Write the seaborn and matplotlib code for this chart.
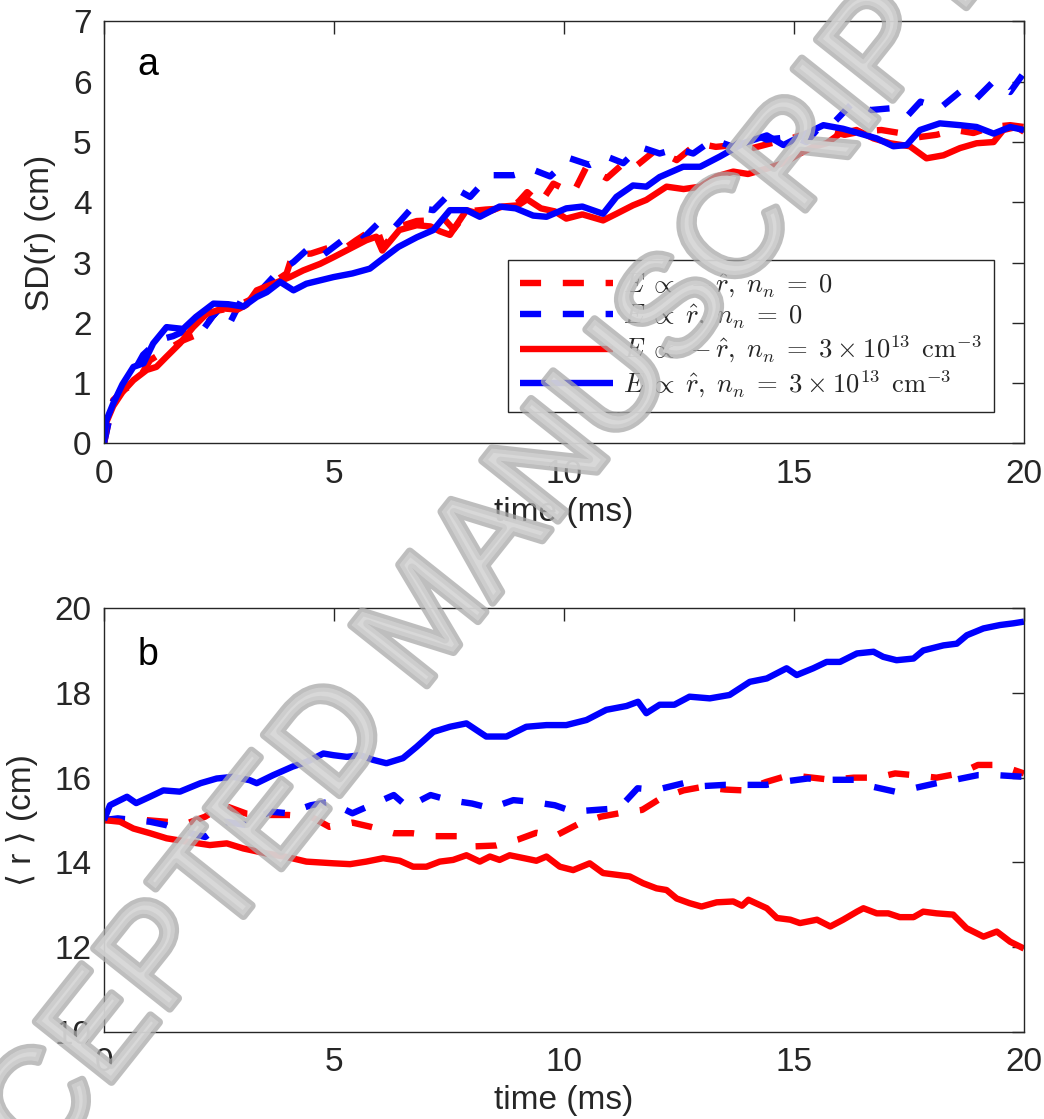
import numpy as np
import pandas as pd
import matplotlib
matplotlib.use("Agg")
import matplotlib.pyplot as plt
import matplotlib.patheffects as pe
from matplotlib import font_manager as fm
import seaborn as sns

# ---------------- data ----------------
# panel a : SD(r) (cm) versus time (ms)
a_t_red_dash = [0, 0.2, 0.45, 0.7, 1.0, 1.36, 1.72, 2.07, 2.45, 2.8, 3.17, 3.54, 3.97, 4.1, 4.5,
                4.94, 5.2, 5.48, 5.92, 6.07, 6.43, 6.8, 7.1, 7.4, 7.6, 7.9, 8.3, 8.7, 9.0, 9.2,
                9.48, 9.77, 10.2, 10.49, 10.93, 11.3, 11.5, 12.0, 12.45, 12.9, 13.3, 13.7, 14.1,
                14.5, 14.9, 15.3, 15.7, 16.1, 16.5, 16.9, 17.3, 17.7, 18.1, 18.5, 18.9, 19.3,
                19.7, 20.0]
a_v_red_dash = [0, 0.72, 0.9, 1.0, 1.38, 1.55, 1.71, 1.82, 2.2, 2.25, 2.38, 2.6, 2.82, 3.13, 3.15,
                3.26, 3.22, 3.37, 3.59, 3.26, 3.6, 3.69, 3.7, 3.72, 3.55, 3.85, 3.88, 3.9, 4.0, 4.17,
                3.98, 4.31, 4.15, 4.59, 4.4, 4.65, 4.56, 4.87, 4.7, 4.98, 4.92, 4.95, 4.9,
                4.98, 5.05, 5.15, 5.2, 5.12, 5.18, 5.2, 5.15, 5.08, 5.12, 5.2, 5.15, 5.25,
                5.28, 5.25]

a_t_blue_dash = [0, 0.2, 0.45, 0.85, 1.2, 1.5, 1.8, 2.1, 2.41, 2.7, 3.0, 3.3, 3.75, 4.12, 4.48,
                 4.77, 5.2, 5.6, 6.0, 6.3, 6.72, 7.16, 7.63, 7.96, 8.39, 8.9, 9.33, 9.7, 10.13,
                 10.56, 10.93, 11.29, 11.65, 12.08, 12.45, 12.81, 13.24, 13.68, 14.1, 14.4, 15.0,
                 15.27, 15.5, 15.9, 16.3, 16.65, 17.1, 17.45, 17.75, 18.17, 18.6, 18.9, 19.33,
                 19.7, 20.0]
a_v_blue_dash = [0, 0.7, 0.92, 1.47, 1.72, 1.78, 1.88, 1.83, 2.16, 1.94, 2.4, 2.45, 2.82, 3.01, 3.26,
                 3.13, 3.38, 3.38, 3.68, 3.57, 3.93, 3.87, 4.23, 4.09, 4.45, 4.45, 4.54, 4.43, 4.73,
                 4.62, 4.76, 4.65, 4.92, 4.81, 4.89, 4.81, 5.04, 4.92, 5.15, 5.04, 5.09,
                 5.0, 5.2, 5.35, 5.67, 5.53, 5.56, 5.42, 5.67, 5.56, 5.83, 5.67, 6.0,
                 5.83, 6.15]

a_t_red_solid = [0, 0.05, 0.2, 0.4, 0.64, 0.93, 1.14, 1.36, 1.65, 1.94, 2.23, 2.59, 2.9, 3.1,
                 3.32, 3.68, 4.04, 4.33, 4.7, 4.99, 5.42, 5.7, 5.92, 6.05, 6.42, 6.8, 7.1, 7.3,
                 7.52, 7.88, 8.2, 8.66, 9.0, 9.2, 9.5, 9.8, 10.05, 10.4, 10.85, 11.14, 11.5,
                 11.79, 12.23, 12.6, 12.96, 13.32, 13.68, 14.0, 14.41, 14.77, 15.13, 15.42,
                 15.71, 16.0, 16.36, 16.73, 17.09, 17.52, 17.88, 18.25, 18.61, 18.97, 19.34,
                 19.55, 19.84, 20.0]
a_v_red_solid = [0, 0.35, 0.62, 0.85, 1.05, 1.22, 1.27, 1.44, 1.66, 1.93, 2.15, 2.24, 2.22, 2.3,
                 2.54, 2.65, 2.76, 2.87, 2.98, 3.09, 3.26, 3.37, 3.43, 3.2, 3.54, 3.62, 3.6, 3.52,
                 3.46, 3.87, 3.8, 3.93, 3.95, 4.05, 3.9, 3.85, 3.73, 3.8, 3.7, 3.81, 3.95,
                 4.04, 4.26, 4.22, 4.26, 4.43, 4.51, 4.47, 4.56, 4.65, 4.81, 4.92,
                 4.98, 5.14, 5.2, 5.06, 4.98, 4.93, 4.73, 4.78, 4.9, 4.98, 5.0,
                 5.2, 5.25, 5.17]

a_t_blue_solid = [0, 0.05, 0.2, 0.4, 0.64, 0.86, 1.07, 1.36, 1.72, 2.0, 2.38, 2.7, 3.03, 3.32,
                  3.54, 3.83, 4.12, 4.4, 4.99, 5.4, 5.78, 6.0, 6.4, 6.8, 7.16, 7.52, 7.88, 8.17,
                  8.6, 8.95, 9.33, 9.62, 10.05, 10.4, 10.85, 11.14, 11.5, 11.79, 12.08, 12.59,
                  12.96, 13.39, 13.9, 14.41, 14.77, 15.13, 15.64, 16.07, 16.44, 16.8, 17.16,
                  17.45, 17.74, 18.17, 18.61, 18.97, 19.34, 19.7, 20.0]
a_v_blue_solid = [0, 0.38, 0.66, 0.98, 1.27, 1.33, 1.66, 1.93, 1.9, 2.1, 2.32, 2.31, 2.27, 2.43,
                  2.51, 2.68, 2.54, 2.65, 2.76, 2.82, 2.9, 3.03, 3.26, 3.42, 3.54, 3.87, 3.87, 3.76,
                  3.93, 3.9, 3.78, 3.76, 3.9, 3.93, 3.81, 4.09, 4.28, 4.26, 4.42, 4.59,
                  4.59, 4.76, 4.98, 5.11, 4.95, 5.09, 5.28, 5.22, 5.14, 5.06, 4.93,
                  4.95, 5.2, 5.31, 5.28, 5.25, 5.14, 5.25, 5.2]

# panel b : <r> (cm) versus time (ms)
b_t_red_dash = [0, 0.3, 0.9, 1.35, 1.8, 2.2, 2.6, 3.1, 3.6, 4.0, 4.5, 4.9, 5.4, 5.8, 6.3, 6.7,
                7.2, 7.7, 8.06, 8.53, 9.0, 9.4, 9.8, 10.3, 10.8, 11.2, 11.7, 12.1, 12.6, 13.0,
                13.5, 13.9, 14.4, 14.9, 15.4, 15.8, 16.3, 16.8, 17.2, 17.6, 18.1, 18.6, 19.0,
                19.45, 20.0]
b_v_red_dash = [15.0, 15.0, 15.0, 14.96, 14.92, 15.08, 15.35, 15.15, 15.12, 15.12, 15.08, 14.84,
                14.94, 14.84, 14.69, 14.69, 14.62, 14.62, 14.38, 14.4, 14.54, 14.7, 14.62, 14.9,
                15.08, 15.16, 15.24, 15.51, 15.7, 15.78, 15.72, 15.7, 15.9, 16.06, 16.0, 15.95,
                16.0, 16.0, 16.1, 16.06, 16.0, 16.1, 16.3, 16.3, 16.1]

b_t_blue_dash = [0, 0.3, 1.0, 1.35, 1.85, 2.2, 2.65, 3.1, 3.6, 4.0, 4.5, 4.9, 5.4, 5.8, 6.3,
                 6.6, 7.1, 7.5, 8.0, 8.4, 8.9, 9.3, 9.8, 10.2, 10.7, 11.2, 11.6, 12.0, 12.6, 13.0,
                 13.5, 13.9, 14.4, 14.8, 15.3, 15.7, 16.3, 16.7, 17.2, 17.6, 18.1, 18.5, 19.0,
                 19.4, 20.0]
b_v_blue_dash = [15.0, 15.04, 14.96, 14.88, 14.7, 14.6, 14.96, 14.88, 15.2, 15.16, 15.35, 15.43,
                 15.16, 15.35, 15.59, 15.31, 15.59, 15.47, 15.39, 15.28, 15.47, 15.43, 15.35, 15.2,
                 15.24, 15.28, 15.75, 15.71, 15.87, 15.8, 15.83, 15.83, 15.83, 15.91, 15.98, 15.95,
                 15.95, 15.79, 15.67, 15.75, 15.87, 15.95, 16.06, 16.06, 16.02]

b_t_red_solid = [0, 0.35, 0.64, 1.0, 1.36, 1.8, 2.3, 2.67, 3.03, 3.54, 3.97, 4.4, 4.99, 5.35,
                 5.7, 6.07, 6.43, 6.72, 7.01, 7.3, 7.59, 7.88, 8.17, 8.39, 8.6, 8.82, 9.18, 9.4,
                 9.62, 9.91, 10.2, 10.56, 10.85, 11.14, 11.43, 11.72, 12.01, 12.23, 12.45, 12.73,
                 12.99, 13.32, 13.68, 13.87, 14.01, 14.41, 14.63, 14.92, 15.13, 15.5, 15.79,
                 16.07, 16.37, 16.51, 16.8, 17.05, 17.3, 17.6, 17.81, 18.1, 18.46, 18.75, 19.12,
                 19.41, 19.7, 20.0]
b_v_red_solid = [15.0, 14.96, 14.8, 14.69, 14.57, 14.49, 14.41, 14.45, 14.33, 14.21, 14.13, 14.02,
                 13.98, 13.96, 14.02, 14.1, 14.04, 13.9, 13.9, 14.02, 14.06, 14.17, 14.02, 14.14,
                 14.06, 14.17, 14.09, 14.04, 14.14, 13.9, 13.82, 13.98, 13.75, 13.71, 13.67, 13.51,
                 13.39, 13.35, 13.15, 13.04, 12.96, 13.06, 13.08, 12.98, 13.12, 12.92, 12.69,
                 12.65, 12.57, 12.65, 12.49, 12.65, 12.84, 12.92, 12.8, 12.8, 12.71, 12.71, 12.84,
                 12.8, 12.77, 12.45, 12.25, 12.37, 12.13, 11.97]

b_t_blue_solid = [0, 0.13, 0.5, 0.7, 1.0, 1.29, 1.65, 2.1, 2.45, 2.81, 3.17, 3.32, 3.68, 4.1,
                  4.4, 4.77, 4.99, 5.28, 5.57, 5.85, 6.14, 6.5, 6.8, 7.16, 7.52, 7.88, 8.31, 8.75,
                  9.18, 9.62, 10.05, 10.49, 10.92, 11.36, 11.61, 11.79, 12.08, 12.4, 12.73, 13.17,
                  13.6, 14.04, 14.41, 14.84, 15.06, 15.42, 15.71, 16.0, 16.37, 16.73, 16.94,
                  17.23, 17.6, 17.81, 18.25, 18.54, 18.76, 19.12, 19.48, 19.77, 20.0]
b_v_blue_solid = [15.0, 15.35, 15.55, 15.4, 15.55, 15.7, 15.67, 15.87, 15.98, 16.02, 15.94, 15.87,
                  16.06, 16.26, 16.37, 16.57, 16.53, 16.49, 16.53, 16.42, 16.34, 16.46, 16.73,
                  17.08, 17.2, 17.28, 16.97, 16.97, 17.2, 17.24, 17.24, 17.36, 17.6, 17.69, 17.79,
                  17.52, 17.72, 17.72, 17.91, 17.87, 17.95, 18.26, 18.34, 18.58, 18.42, 18.58,
                  18.73, 18.73, 18.93, 18.97, 18.85, 18.77, 18.81, 19.0, 19.12, 19.16, 19.36,
                  19.52, 19.6, 19.64, 19.68]

labels = [r"$E \;\propto\; -\hat{r},\; n_n \;=\; 0$",
          r"$E \;\propto\; \hat{r},\; n_n \;=\; 0$",
          r"$E \;\propto\; -\hat{r},\; n_n \;=\; 3 \:\times\: 10^{13}\;\, \mathrm{cm}^{-3}$",
          r"$E \;\propto\; \hat{r},\; n_n \;=\; 3 \:\times\: 10^{13}\;\, \mathrm{cm}^{-3}$"]

x_ticks = [0, 5, 10, 15, 20]
a_y_ticks = [0, 1, 2, 3, 4, 5, 6, 7]
b_y_ticks = [10, 12, 14, 16, 18, 20]

# ---------------- style ----------------
sns.set_style("white")
plt.rcParams["font.family"] = ["Liberation Sans", "DejaVu Sans"]
plt.rcParams["mathtext.fontset"] = "cm"

AX_COLOR = "#262626"
RED = "#ff0000"
BLUE = "#0000ff"
LW = 4.6
DASH = (0, (3.3, 3.4))
FS = 24

fig = plt.figure(figsize=(10.44, 11.19), dpi=100)
ax_a = fig.add_axes([0.0996, 0.6037, 0.8812, 0.3771])
ax_b = fig.add_axes([0.0996, 0.0777, 0.8812, 0.3789])

series_a = [(a_t_red_dash, a_v_red_dash, RED, DASH),
            (a_t_blue_dash, a_v_blue_dash, BLUE, DASH),
            (a_t_red_solid, a_v_red_solid, RED, "-"),
            (a_t_blue_solid, a_v_blue_solid, BLUE, "-")]
series_b = [(b_t_red_dash, b_v_red_dash, RED, DASH),
            (b_t_blue_dash, b_v_blue_dash, BLUE, DASH),
            (b_t_red_solid, b_v_red_solid, RED, "-"),
            (b_t_blue_solid, b_v_blue_solid, BLUE, "-")]

for (t, v, c, ls), lab in zip(series_a, labels):
    df = pd.DataFrame({"time": t, "value": v})
    sns.lineplot(data=df, x="time", y="value", ax=ax_a, color=c, linestyle=ls,
                 linewidth=LW, label=lab, sort=False, errorbar=None,
                 solid_capstyle="butt", dash_capstyle="butt")

for (t, v, c, ls) in series_b:
    df = pd.DataFrame({"time": t, "value": v})
    sns.lineplot(data=df, x="time", y="value", ax=ax_b, color=c, linestyle=ls,
                 linewidth=LW, sort=False, errorbar=None,
                 solid_capstyle="butt", dash_capstyle="butt")


def style_axes(ax, yticks, ylim, ylabel):
    ax.set_xlim(0, 20)
    ax.set_ylim(*ylim)
    ax.set_xticks(x_ticks)
    ax.set_yticks(yticks)
    ax.set_xticklabels([str(x) for x in x_ticks])
    ax.set_yticklabels([str(y) for y in yticks])
    ax.tick_params(direction="in", length=9, width=1.0, colors=AX_COLOR,
                   labelsize=FS, top=True, right=True, pad=9)
    ax.tick_params(axis="x", pad=11)
    for s in ax.spines.values():
        s.set_visible(True)
        s.set_color(AX_COLOR)
        s.set_linewidth(1.0)
    ax.set_xlabel("time (ms)", fontsize=FS, color=AX_COLOR, labelpad=5)
    ax.set_ylabel(ylabel, fontsize=FS, color=AX_COLOR, labelpad=12)


style_axes(ax_a, a_y_ticks, (0, 7), "SD(r) (cm)")
style_axes(ax_b, b_y_ticks, (10, 20), "\u27e8 r \u27e9 (cm)")

ax_a.text(0.048, 0.897, "a", transform=ax_a.transAxes, fontsize=27,
          ha="center", va="center", color="black")
ax_b.text(0.048, 0.889, "b", transform=ax_b.transAxes, fontsize=27,
          ha="center", va="center", color="black")

leg = ax_a.legend(loc="lower right", bbox_to_anchor=(0.9674, 0.0746), borderaxespad=0,
                  fontsize=19.2, handlelength=3.5, handletextpad=0.38, labelspacing=0.12,
                  borderpad=0.45, fancybox=False, framealpha=1.0)
leg.get_frame().set_edgecolor(AX_COLOR)
leg.get_frame().set_linewidth(1.0)

# diagonal manuscript stamp across the page, in a narrow face when one is installed
names = {f.name for f in fm.fontManager.ttflist}
if "Liberation Sans Narrow" in names:
    stamp_family, stamp_size = "Liberation Sans Narrow", 121
elif "DejaVu Sans Condensed" in names:
    stamp_family, stamp_size = "DejaVu Sans Condensed", 114
else:
    stamp_family, stamp_size = "Liberation Sans", 101

fig.text(0.412, 0.443, "ACCEPTED MANUSCRIPT", fontsize=stamp_size,
         family=[stamp_family, "DejaVu Sans"], color="#d6d6d6", alpha=0.75,
         rotation=51.5, rotation_mode="anchor", ha="center", va="center", zorder=10,
         path_effects=[pe.Stroke(linewidth=6, foreground="#a9a9a9"), pe.Normal()])

fig.savefig("out.png", dpi=100)
